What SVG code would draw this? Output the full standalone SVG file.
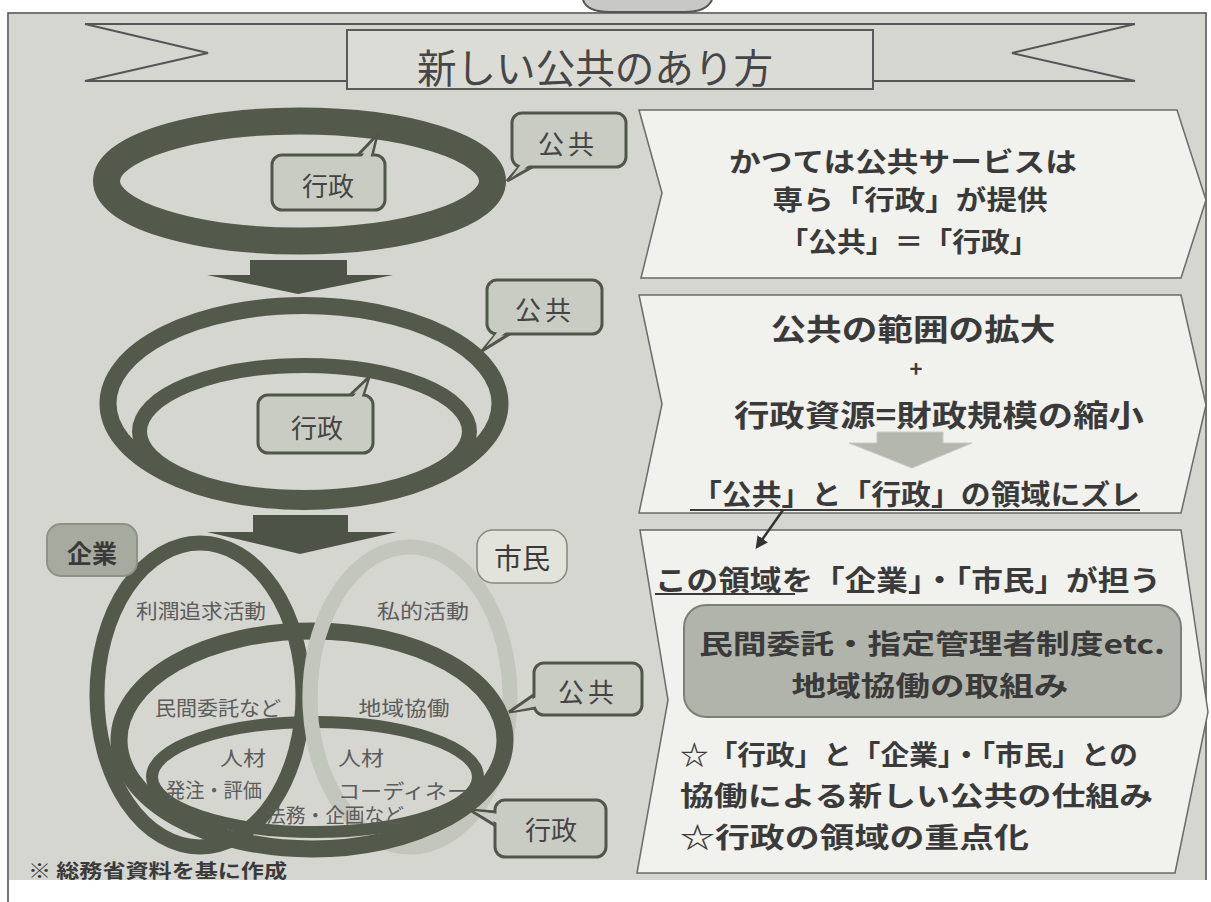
<svg xmlns="http://www.w3.org/2000/svg" width="1211" height="902" viewBox="0 0 1211 902">
<defs>
<style>
.bg{fill:#d5d6d0}
.frame{fill:none;stroke:#4a4a4a;stroke-width:1.5}
.rib{fill:none;stroke:#555;stroke-width:2}
.ring{fill:none;stroke:#535a4b}
.lring{fill:none;stroke:#c3c6bc}
.cb{fill:#c9ccc3;stroke:#50574a;stroke-width:3}
.cf{fill:#c9ccc3;stroke:none}
.panel{fill:#f1f1ee;stroke:#6a6a66;stroke-width:1.5}
.t{font-family:"Noto Sans CJK JP","Noto Sans",sans-serif;dominant-baseline:central;text-anchor:middle}
.ts{font-family:"Noto Sans CJK JP","Noto Sans",sans-serif;dominant-baseline:central;text-anchor:start}
.b{font-weight:bold;fill:#3a3a3a}
.call{font-size:26px;fill:#444}
.venn{font-size:20px;fill:#5c5c5c}
.ul{stroke:#3a3a3a;stroke-width:2}
</style>
<marker id="ah" viewBox="0 0 10 10" refX="8" refY="5" markerWidth="5" markerHeight="5" orient="auto">
<path d="M0,0 L10,5 L0,10 z" fill="#333"/>
</marker>
</defs>

<rect width="1211" height="902" fill="#ffffff"/>
<rect class="bg" x="9" y="14" width="1196" height="866"/>
<path class="frame" d="M8,902 L8,13 L1206,13 L1206,880"/>
<path d="M583,0 C586,9 596,12 610,12 L685,12 C700,12 708,8 712,0" fill="#c8c8c4" stroke="#555" stroke-width="2"/>

<g id="title">
<path class="rib" d="M85,24 L1135,24 M347,81 L85,81 L208,53 L85,24 M873,81 L1135,81 L1012,53 L1135,24"/>
<rect x="347" y="30" width="526" height="59" fill="#dcdcd7" stroke="#5a5a5a" stroke-width="2"/>
<text class="t" x="595" y="66" font-size="40" fill="#464646" textLength="356" lengthAdjust="spacingAndGlyphs">新しい公共のあり方</text>
</g>

<g id="rings-top">
<ellipse class="ring" cx="299.5" cy="181" rx="193" ry="60" stroke-width="27"/>
</g>

<g id="callout-gyosei-1">
<polygon class="cb" points="357,156 377,135 372,156"/>
<rect class="cb" x="272" y="155" width="113" height="55" rx="10"/>
<polygon class="cf" points="360,159 375,139 370,159"/>
<text class="t call" x="328" y="184">行政</text>
</g>

<g id="callout-kokyo-1">
<polygon class="cb" points="520,166 507,181 534,166"/>
<rect class="cb" x="512" y="113" width="114" height="54" rx="10"/>
<polygon class="cf" points="522,163 511,178 532,163"/>
<text class="t call" x="568" y="142" letter-spacing="4">公共</text>
</g>

<g id="arrow-1">
<polygon points="250,260 347,260 347,275 393,275 298,294 207,275 250,275" fill="#4d5447"/>
</g>

<g id="rings-mid">
<ellipse class="ring" cx="304" cy="403.5" rx="196" ry="98" stroke-width="17"/>
<ellipse class="ring" cx="304.5" cy="431.5" rx="165" ry="66" stroke-width="15"/>
</g>

<g id="callout-kokyo-2">
<polygon class="cb" points="497,333 482,351 511,333"/>
<rect class="cb" x="487" y="280" width="115" height="54" rx="10"/>
<polygon class="cf" points="499,330 486,347 509,330"/>
<text class="t call" x="545" y="308" letter-spacing="4">公共</text>
</g>

<g id="callout-gyosei-2">
<polygon class="cb" points="349,396 369,377 363,396"/>
<rect class="cb" x="258" y="395" width="115" height="58" rx="10"/>
<polygon class="cf" points="351,399 367,381 361,399"/>
<text class="t call" x="317" y="426">行政</text>
</g>

<g id="arrow-2">
<polygon points="253,515 348,515 348,532 397,532 300,554 207,532 253,532" fill="#4d5447"/>
</g>

<g id="venn">
<ellipse class="lring" cx="410" cy="697" rx="100" ry="150" stroke-width="15"/>
<ellipse class="ring" cx="312" cy="740" rx="193" ry="109" stroke-width="17"/>
<ellipse class="ring" cx="315" cy="777" rx="163" ry="55" stroke-width="12"/>
<ellipse class="ring" cx="200" cy="695" rx="103" ry="152" stroke-width="15"/>
<path class="lring" d="M333.7,600 A100,150 0 0,0 344,810" stroke-width="15"/>
<text class="t venn" x="201" y="610" textLength="130" lengthAdjust="spacingAndGlyphs">利潤追求活動</text>
<text class="t venn" x="423" y="610" textLength="92" lengthAdjust="spacingAndGlyphs">私的活動</text>
<text class="t venn" x="218" y="707" textLength="126" lengthAdjust="spacingAndGlyphs">民間委託など</text>
<text class="t venn" x="404" y="707" textLength="91" lengthAdjust="spacingAndGlyphs">地域協働</text>
<text class="t venn" x="243" y="757" textLength="46" lengthAdjust="spacingAndGlyphs">人材</text>
<text class="t venn" x="214" y="789" textLength="96" lengthAdjust="spacingAndGlyphs">発注・評価</text>
<text class="ts venn" x="338" y="757" textLength="46" lengthAdjust="spacingAndGlyphs">人材</text>
<text class="ts venn" x="338" y="790" textLength="131" lengthAdjust="spacingAndGlyphs">コーディネー</text>
<text class="t venn" x="335" y="814" textLength="138" lengthAdjust="spacingAndGlyphs">法務・企画など</text>
</g>

<g id="label-kigyo">
<rect x="47" y="524" width="90" height="52" rx="14" fill="#a7ab9f" stroke="#8d9186" stroke-width="2"/>
<text class="t b" x="92" y="552" font-size="25" fill="#333">企業</text>
</g>

<g id="label-shimin">
<rect x="477" y="530" width="90" height="53" rx="16" fill="#e2e4dc" stroke="#85877f" stroke-width="1.5"/>
<text class="t" x="522" y="557" font-size="28" fill="#3a3a3a">市民</text>
</g>

<g id="callout-kokyo-3">
<polygon class="cb" points="535,694 509,712 535,708"/>
<rect class="cb" x="534" y="663" width="108" height="52" rx="10"/>
<polygon class="cf" points="538,696 513,711 538,706"/>
<text class="t call" x="588" y="690" letter-spacing="4">公共</text>
</g>

<g id="callout-gyosei-3">
<polygon class="cb" points="496,812 470,810 496,826"/>
<rect class="cb" x="495" y="800" width="111" height="57" rx="10"/>
<polygon class="cf" points="499,814 474,811 499,824"/>
<text class="t call" x="551" y="828">行政</text>
</g>

<g id="panel-1">
<polygon class="panel" points="639,110 1177,110 1206,200 1181,278 641,278 662,193"/>
<text class="t b" x="903" y="160" font-size="27" textLength="348" lengthAdjust="spacingAndGlyphs">かつては公共サービスは</text>
<text class="t b" x="910" y="198" font-size="27" textLength="275" lengthAdjust="spacingAndGlyphs">専ら「行政」が提供</text>
<text class="t b" x="909" y="240" font-size="27" textLength="259" lengthAdjust="spacingAndGlyphs">「公共」＝「行政」</text>
</g>

<g id="panel-2">
<polygon class="panel" points="639,295 1181,295 1206,405 1181,513 639,513 662,404"/>
<text class="t b" x="913" y="327" font-size="30" textLength="285" lengthAdjust="spacingAndGlyphs">公共の範囲の拡大</text>
<text class="t b" x="916" y="367" font-size="22">+</text>
<text class="t b" x="939" y="413" font-size="30" textLength="410" lengthAdjust="spacingAndGlyphs">行政資源=財政規模の縮小</text>
<polygon points="877,432 943,432 943,443 972,443 912,468 849,443 877,443" fill="#b4b7ad" stroke="#c8cac2" stroke-width="1"/>
<text class="t b" x="916" y="493" font-size="28" textLength="448" lengthAdjust="spacingAndGlyphs">「公共」と「行政」の領域にズレ</text>
<line class="ul" x1="690" y1="510" x2="1140" y2="510"/>
</g>

<g id="panel-3">
<polygon class="panel" points="640,530 1181,530 1208,712 1175,873 637,873 668,700"/>
<text class="t b" x="908" y="579" font-size="28" textLength="506" lengthAdjust="spacingAndGlyphs">この領域を「企業」・「市民」が担う</text>
<line class="ul" x1="655" y1="594" x2="795" y2="594"/>
<rect x="684" y="605" width="497" height="112" rx="22" fill="#b1b4aa" stroke="#7c8076" stroke-width="2"/>
<text class="t b" x="932" y="642" font-size="27" textLength="466" lengthAdjust="spacingAndGlyphs">民間委託・指定管理者制度etc.</text>
<text class="t b" x="930" y="684" font-size="27" textLength="277" lengthAdjust="spacingAndGlyphs">地域協働の取組み</text>
<text class="ts b" x="680" y="753" font-size="27" textLength="458" lengthAdjust="spacingAndGlyphs">☆「行政」と「企業」・「市民」との</text>
<text class="ts b" x="680" y="794" font-size="27" textLength="473" lengthAdjust="spacingAndGlyphs">協働による新しい公共の仕組み</text>
<text class="ts b" x="680" y="836" font-size="28" textLength="349" lengthAdjust="spacingAndGlyphs">☆行政の領域の重点化</text>
</g>

<g id="connectors">
<line x1="783" y1="510" x2="757" y2="547" stroke="#333" stroke-width="2.5" marker-end="url(#ah)"/>
</g>

<text class="ts b" x="28" y="869" font-size="19" textLength="259" lengthAdjust="spacingAndGlyphs">※ 総務省資料を基に作成</text>
</svg>
